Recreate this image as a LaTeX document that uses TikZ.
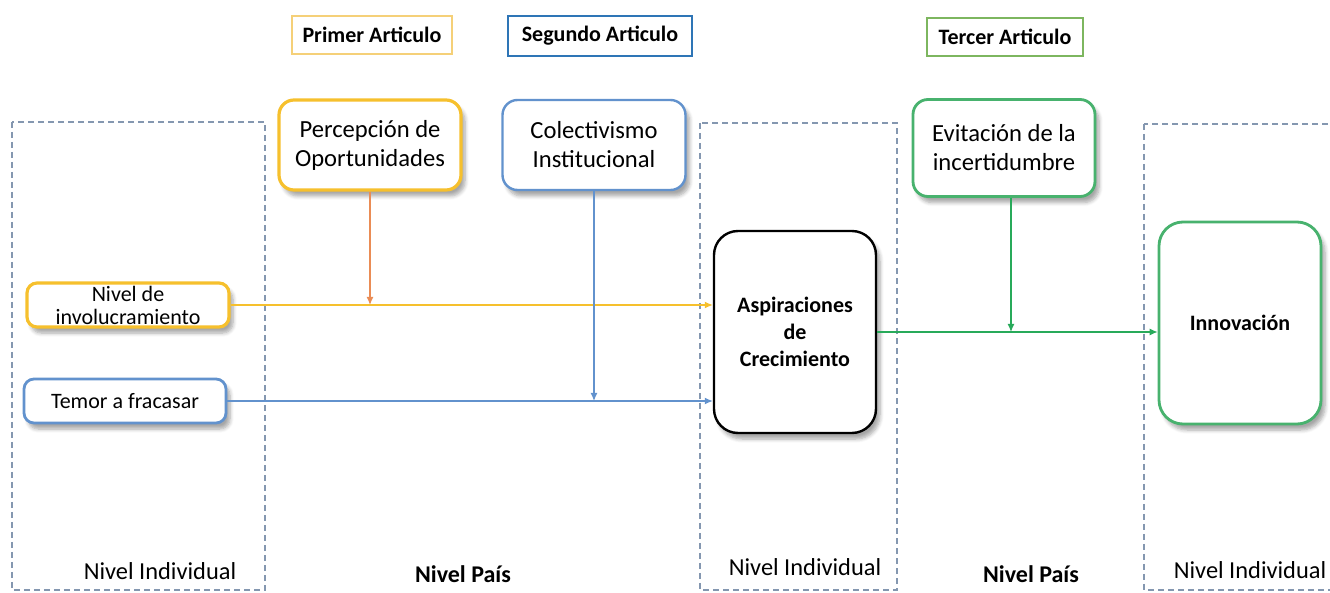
\documentclass[tikz,border=0pt]{standalone}
\usepackage{fontspec}
\setmainfont{Carlito}
\usetikzlibrary{arrows.meta,%
                shadows.blur}

\definecolor{oro}{RGB}{246,192,45}
\definecolor{orolabel}{RGB}{245,208,120}
\definecolor{naranja}{RGB}{234,140,85}
\definecolor{azul}{RGB}{98,146,205}
\definecolor{azullabel}{RGB}{46,117,182}
\definecolor{verde}{RGB}{72,178,110}
\definecolor{verdelabel}{RGB}{125,182,95}
\definecolor{verdeflecha}{RGB}{40,170,90}
\definecolor{gris}{RGB}{132,151,176}

\begin{document}
\begin{tikzpicture}[x=0.5pt,y=-0.5pt,
  articulo/.style={draw,line width=0.8pt,fill=white,minimum height=19pt,inner sep=3pt,
                   font=\fontsize{11}{13}\selectfont\bfseries},
  factor/.style={draw,line width=1.2pt,fill=white,rounded corners=7.5pt,align=center,inner sep=0pt,
                 font=\fontsize{12.3}{14.5}\selectfont,
                 blur shadow={shadow xshift=2pt,shadow yshift=-3pt,shadow opacity=35,shadow blur steps=6}},
  entrada/.style={factor,rounded corners=5pt,font=\fontsize{11}{11.5}\selectfont,
                  minimum width=101pt,minimum height=22pt},
  varbox/.style={factor,rounded corners=12pt,minimum width=81pt,minimum height=101pt,
                 font=\fontsize{11}{13.5}\selectfont\bfseries},
  nivelbox/.style={draw=gris,line width=0.6pt,dash pattern=on 3pt off 2pt},
  etiqueta/.style={font=\fontsize{12.2}{14}\selectfont},
  flecha/.style={line width=0.6pt,-{Latex[length=4pt,width=3.5pt]}}]
  \useasboundingbox (0,0) rectangle (1330,593);

  % niveles
  \draw[nivelbox] (12,122) rectangle (265,590);
  \draw[nivelbox] (700,123) rectangle (897,590);
  \draw[nivelbox] (1144,124) rectangle (1340,590);

  \node[etiqueta] (indiv1) at (160,571) {Nivel Individual};
  \node[etiqueta,font=\fontsize{12}{14}\selectfont\bfseries] (pais1) at (463,574) {Nivel País};
  \node[etiqueta] (indiv2) at (805,567) {Nivel Individual};
  \node[etiqueta,font=\fontsize{12}{14}\selectfont\bfseries] (pais2) at (1031,574) {Nivel País};
  \node[etiqueta] (indiv3) at (1250,570) {Nivel Individual};

  % articulos
  \node[articulo,draw=orolabel,minimum width=80pt] (primer) at (372,35) {Primer Articulo};
  \node[articulo,draw=azullabel,minimum width=92pt,minimum height=20pt] (segundo) at (600,36) {Segundo Articulo};
  \node[articulo,draw=verdelabel,minimum width=78pt] (tercer) at (1005,37) {Tercer Articulo};

  % moderadores
  \node[factor,draw=oro,line width=1.6pt,minimum width=91pt,minimum height=45pt] (perc) at (370,145) {Percepción de\\Oportunidades};
  \node[factor,draw=azul,minimum width=91.5pt,minimum height=45pt] (colect) at (594,145) {Colectivismo\\Institucional};
  \node[factor,draw=verde,line width=1.4pt,minimum width=91pt,minimum height=48.5pt] (evit) at (1004,148) {Evitación de la\\incertidumbre};

  % variables
  \node[entrada,draw=oro,line width=1.6pt] (invol) at (128,305) {Nivel de\\involucramiento};
  \node[entrada,draw=azul,line width=1.4pt] (temor) at (125,401) {Temor a fracasar};
  \node[varbox,draw=black] (asp) at (795,332) {Aspiraciones\\de\\Crecimiento};
  \node[varbox,draw=verde,line width=1.4pt] (innov) at (1240,323) {Innovación};

  \draw[flecha,oro] (invol.east) -- (invol.east -| asp.west);
  \draw[flecha,azul] (temor.east) -- (temor.east -| asp.west);
  \draw[flecha,verdeflecha] (asp.east) -- (asp.east -| innov.west);

  \coordinate (evitpie) at ([xshift=3.5pt]evit.south);
  \draw[flecha,naranja] (perc.south) -- (perc.south |- invol.east);
  \draw[flecha,azul] (colect.south) -- (colect.south |- temor.east);
  \draw[flecha,verdeflecha] (evitpie) -- (evitpie |- asp.east);

\end{tikzpicture}
\end{document}
